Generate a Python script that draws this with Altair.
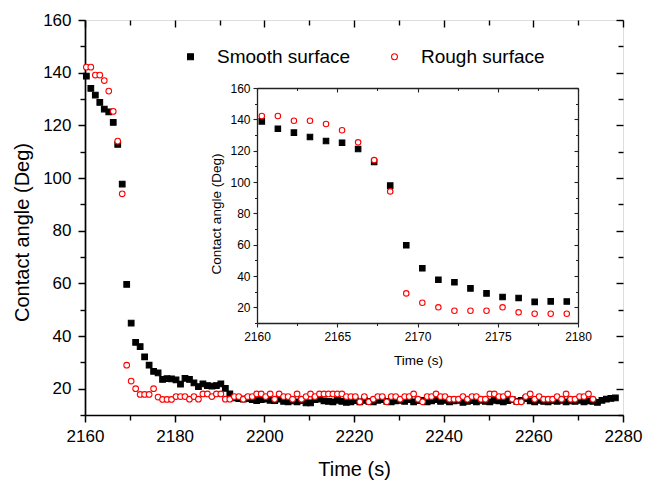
import altair as alt
import pandas as pd

FONT = "Liberation Sans"

# ---- data ----
T_START = 2160.3   # first sample time (s)
T_STEP = 1.0       # sampling interval (s)

smooth_vals = [
    138.7, 134.0, 131.5, 128.7, 126.2, 125.1, 121.1, 112.8, 97.7, 59.6,
    44.9, 37.6, 36.0, 32.1, 28.9, 26.6, 26.0, 23.5, 23.8, 23.7,
    23.3, 21.7, 23.9, 23.5, 22.2, 20.8, 21.8, 21.2, 21.0, 21.2,
    21.8, 20.1, 18.0, 16.5, 16.2, 16.0, 16.2, 15.8, 15.5, 15.8,
    16.0, 15.6, 15.5, 16.0, 15.2, 15.0, 15.4, 15.0, 15.5, 14.6,
    14.6, 15.8, 16.0, 15.4, 15.2, 15.0, 15.6, 15.2, 14.8, 15.0,
    15.5, 15.0, 15.6, 15.2, 15.0, 15.6, 15.8, 15.2, 15.0, 15.4,
    15.6, 15.2, 15.8, 15.0, 15.5, 15.6, 15.0, 15.4, 15.8, 15.2,
    15.6, 15.0, 15.4, 15.6, 14.8, 15.2, 15.5, 15.0, 15.6, 15.2,
    15.0, 15.6, 15.4, 15.0, 15.5, 15.8, 15.2, 15.6, 16.2, 15.4,
    15.0, 15.6, 15.2, 15.0, 15.5, 15.2, 15.6, 15.0, 15.4, 15.2,
    15.6, 15.0, 15.4, 15.2, 14.8, 15.6, 16.0, 16.3, 16.5,
]

rough_vals = [
    142.1, 142.1, 139.1, 139.1, 137.0, 133.0, 125.3, 114.0, 94.0, 28.9,
    22.9, 20.0, 17.8, 17.8, 17.8, 20.0, 16.8, 15.9, 15.9, 15.9,
    17, 17, 17, 16, 17, 16, 18, 18, 17, 18,
    18, 16, 16, 17, 17, 16, 17, 17, 18, 18,
    17, 18, 16, 18, 17, 17, 16, 18, 16, 17,
    18, 17, 18, 18, 18, 18, 18, 18, 17, 17,
    17, 15, 17, 15, 16, 17, 17, 15, 17, 17,
    16, 17, 17, 18, 16, 15, 17, 17, 18, 17,
    17, 16, 16, 16, 17, 16, 17, 17, 16, 16,
    18, 18, 17, 17, 18, 16, 15, 15, 17, 18,
    16, 17, 16, 16, 16, 17, 16, 18, 16, 16,
    17, 17, 18, 16,
]

series_names = ["Smooth surface", "Rough surface"]

main_x_ticks = [2160, 2180, 2200, 2220, 2240, 2260, 2280]
main_x_minor = [2170, 2190, 2210, 2230, 2250, 2270]
main_y_ticks = [20, 40, 60, 80, 100, 120, 140, 160]
main_y_minor = [10, 30, 50, 70, 90, 110, 130, 150]
inset_x_ticks = [2160, 2165, 2170, 2175, 2180]
inset_x_minor = [2162.5, 2167.5, 2172.5, 2177.5]

rows = []
for name, vals in zip(series_names, [smooth_vals, rough_vals]):
    for i, v in enumerate(vals):
        rows.append({"t": round(T_START + i * T_STEP, 2), "v": v, "series": name})
df = pd.DataFrame(rows)

# ---- layout ----
W, H = 538, 395
PAD = {"left": 85, "top": 20, "right": 23, "bottom": 65}

main_x = alt.Scale(domain=[2160, 2280], nice=False, zero=False)
main_y = alt.Scale(domain=[10, 160], nice=False, zero=False)
inset_x = alt.Scale(domain=[2160, 2180], range=[172, 493], nice=False, zero=False)
inset_y = alt.Scale(domain=[10, 160], range=[303, 68], nice=False, zero=False)

common_ax = dict(grid=False, labelFont=FONT, labelColor="black", titleFont=FONT,
                 titleColor="black", titleFontWeight="normal", tickColor="black",
                 domainColor="black", labelFlush=False, labelOverlap=False)


def ax(**kw):
    d = dict(common_ax)
    d.update(kw)
    return alt.Axis(**d)


def bare(orient, values, size, offset=0, domain=False, width=1.4, color="black"):
    return ax(orient=orient, values=values, tickSize=size, offset=offset, domain=domain,
              labels=False, title=None, tickWidth=width, tickColor=color,
              domainColor=color, domainWidth=1.3, ticks=size > 0)


legend = alt.Legend(orient="none", legendX=96, legendY=27, direction="horizontal",
                    title=None, labelFont=FONT, labelFontSize=19, labelColor="black",
                    symbolSize=35, symbolStrokeWidth=1.1, labelOffset=17,
                    columnPadding=34, padding=0, labelLimit=300)


def series_enc(leg):
    return dict(
        shape=alt.Shape("series:N", scale=alt.Scale(domain=series_names, range=["square", "circle"]), legend=leg),
        fill=alt.Fill("series:N", scale=alt.Scale(domain=series_names, range=["#000000", "#ffffff"]), legend=leg),
        stroke=alt.Stroke("series:N", scale=alt.Scale(domain=series_names, range=["#000000", "#ff0000"]), legend=leg),
    )


base = alt.Chart(df)

# main scatter with main bottom/left axes
main_pts = base.mark_point(filled=True, size=32, strokeWidth=1.1, opacity=1).encode(
    x=alt.X("t:Q", scale=main_x, axis=ax(
        orient="bottom", values=main_x_ticks, format="d", tickSize=7, tickWidth=1.5,
        domainWidth=1.7, labelFontSize=17, labelPadding=6, title="Time (s)",
        titleFontSize=20, titleX=269, titleY=60, titleBaseline="alphabetic",
        titleAlign="center")),
    y=alt.Y("v:Q", scale=main_y, axis=ax(
        orient="left", values=main_y_ticks, format="d", tickSize=7, tickWidth=1.5,
        domainWidth=1.7, labelFontSize=17, labelPadding=7,
        title="Contact angle (Deg)", titleFontSize=20, titleX=-57, titleY=212,
        titleAngle=270, titleBaseline="alphabetic", titleAlign="center")),
    **series_enc(legend),
)

inv = dict(opacity=0)

main_minor = base.mark_point(**inv).encode(
    x=alt.X("t:Q", scale=main_x, axis=bare("bottom", main_x_minor, 5)),
    y=alt.Y("v:Q", scale=main_y, axis=bare("left", main_y_minor, 5)),
)
main_mirror = base.mark_point(**inv).encode(
    x=alt.X("t:Q", scale=main_x, axis=bare("top", main_x_ticks, 7, offset=-7)),
    y=alt.Y("v:Q", scale=main_y, axis=bare("right", main_y_ticks, 7, offset=-7)),
)
main_mirror_minor = base.mark_point(**inv).encode(
    x=alt.X("t:Q", scale=main_x, axis=bare("top", main_x_minor, 5, offset=-5)),
    y=alt.Y("v:Q", scale=main_y, axis=bare("right", main_y_minor, 5, offset=-5)),
)

inset_df = base.transform_filter(alt.datum.t <= 2180)
IC = "#222222"

inset_pts = inset_df.mark_point(filled=True, size=30, strokeWidth=1.1, opacity=1).encode(
    x=alt.X("t:Q", scale=inset_x, axis=ax(
        orient="bottom", offset=-92, values=inset_x_ticks, format="d", tickSize=4,
        tickWidth=1.1, tickColor=IC, domainColor=IC, domainWidth=1.3,
        labelFontSize=12, labelPadding=4, title="Time (s)", titleFontSize=13.5,
        titleX=333, titleY=41, titleBaseline="alphabetic", titleAlign="center")),
    y=alt.Y("v:Q", scale=inset_y, axis=ax(
        orient="left", offset=-172, values=main_y_ticks, format="d", tickSize=4,
        tickWidth=1.1, tickColor=IC, domainColor=IC, domainWidth=1.3,
        labelFontSize=12, labelPadding=3, title="Contact angle (Deg)",
        titleFontSize=13.5, titleX=-37, titleY=193.5, titleAngle=270,
        titleBaseline="alphabetic", titleAlign="center")),
    **series_enc(None),
)
inset_minor = inset_df.mark_point(**inv).encode(
    x=alt.X("t:Q", scale=inset_x, axis=bare("bottom", inset_x_minor, 2.5, offset=-92, width=1.0, color=IC)),
    y=alt.Y("v:Q", scale=inset_y, axis=bare("left", main_y_minor, 2.5, offset=-172, width=1.0, color=IC)),
)
inset_frame = inset_df.mark_point(**inv).encode(
    x=alt.X("t:Q", scale=inset_x, axis=bare("top", inset_x_ticks, 0, offset=-68, domain=True, color=IC)),
    y=alt.Y("v:Q", scale=inset_y, axis=bare("right", main_y_ticks, 0, offset=-45, domain=True, color=IC)),
)
inset_mirror = inset_df.mark_point(**inv).encode(
    x=alt.X("t:Q", scale=inset_x, axis=bare("top", inset_x_ticks, 4, offset=-72, width=1.1, color=IC)),
    y=alt.Y("v:Q", scale=inset_y, axis=bare("right", main_y_ticks, 4, offset=-49, width=1.1, color=IC)),
)
inset_mirror_minor = inset_df.mark_point(**inv).encode(
    x=alt.X("t:Q", scale=inset_x, axis=bare("top", inset_x_minor, 2.5, offset=-70.5, width=1.0, color=IC)),
    y=alt.Y("v:Q", scale=inset_y, axis=bare("right", main_y_minor, 2.5, offset=-47.5, width=1.0, color=IC)),
)

chart = alt.layer(
    main_minor, main_mirror, main_mirror_minor,
    inset_frame, inset_mirror, inset_mirror_minor, inset_minor,
    main_pts, inset_pts,
).resolve_scale(
    x="independent", y="independent"
).resolve_axis(
    x="independent", y="independent"
).properties(
    width=W, height=H,
    autosize=alt.AutoSizeParams(type="none"),
    padding=PAD,
).configure_view(
    stroke="black", strokeWidth=1.6
).configure(
    background="white", font=FONT
)

chart.save("out.html", embed_options={"renderer": "svg", "actions": False})
